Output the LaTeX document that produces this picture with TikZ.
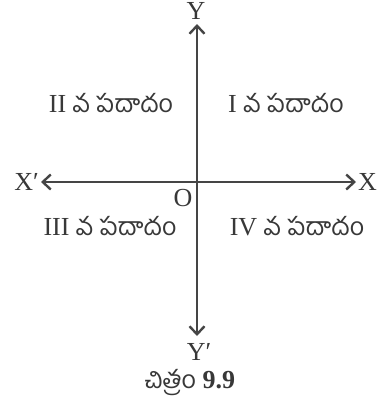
\documentclass[tikz,border=0pt]{standalone}
\usepackage{fontspec}
\setmainfont{Liberation Serif}
\newfontfamily\telugu[Script=Telugu]{Hind Guntur}
\usepackage{tikz}
\usetikzlibrary{arrows.meta,positioning}
\definecolor{axisgray}{gray}{0.27}
\definecolor{txtgray}{gray}{0.22}
\newcommand{\tel}[1]{{\telugu\fontsize{25}{28}\selectfont #1}}

\begin{document}
\begin{tikzpicture}[
  x=1pt, y=-1pt,
  font=\fontsize{26}{30}\selectfont,
  axis/.style={draw=axisgray, line width=2.4pt,
    {Straight Barb[length=8pt, width=15pt]}-{Straight Barb[length=8pt, width=15pt]}},
  lbl/.style={text=txtgray, inner sep=0pt},
  quad/.style={text=txtgray, inner sep=0pt}
]
\useasboundingbox (0,0) rectangle (377,410);
% axes
\coordinate (O) at (197,182);
\coordinate (top) at (197,24);
\coordinate (bot) at (197,336);
\coordinate (left) at (41,182);
\coordinate (right) at (356,182);
\draw[axis] (bot) -- (top);
\draw[axis] (left) -- (right);
% axis letters
\node[lbl, anchor=south] (Y) at (196,20) {Y};
\node[lbl, anchor=north] (Yp) at (199,343) {Y′};
\node[lbl, anchor=east] (Xp) at (39,182) {X′};
\node[lbl, anchor=west] (X) at (358,182) {X};
\node[lbl] (Olbl) at (183,198) {O};
% quadrants
\node[quad] (q2) at (111,103) {II \tel{వ పదాదం}};
\node[quad] (q1) at (286,103) {I \tel{వ పదాదం}};
\node[quad] (q3) at (110,226) {III \tel{వ పదాదం}};
\node[quad] (q4) at (297,226) {IV \tel{వ పదాదం}};
% caption
\node[lbl] (cap) at (190,383) {\tel{చిత్రం} \textbf{9.9}};
\end{tikzpicture}
\end{document}
